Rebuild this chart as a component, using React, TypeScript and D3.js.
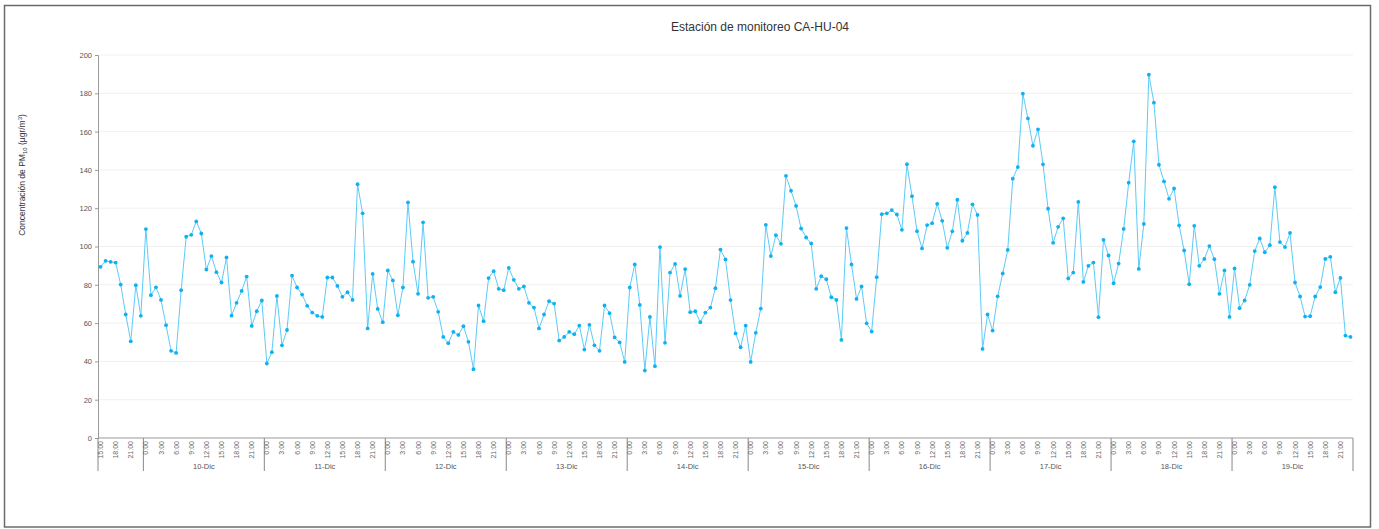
import { useEffect, useRef } from 'react';
import * as d3 from 'd3';

// hourly PM10 readings, one array per day (9-Dic starts at 15:00)
const dic09 = [89.4, 92.5, 92.0, 91.6, 80.1, 64.5, 50.5, 79.8, 63.8];
const dic10 = [109.1, 74.6, 78.7, 72.1, 58.9, 45.5, 44.4, 77.2, 105.1, 106.1, 113.1, 106.8, 88.0, 95.0, 86.6, 81.2, 94.3, 63.9, 70.6, 76.8, 84.3, 58.5, 66.2, 71.8];
const dic11 = [38.9, 44.8, 74.2, 48.4, 56.4, 84.8, 78.6, 74.9, 69.0, 65.5, 63.8, 63.2, 83.8, 83.8, 79.4, 73.7, 76.1, 72.1, 132.5, 117.3, 57.2, 85.7, 67.4, 60.5];
const dic12 = [87.5, 82.3, 64.1, 78.6, 123.0, 92.1, 75.3, 112.6, 73.2, 73.7, 65.9, 52.8, 49.5, 55.4, 53.8, 58.4, 50.2, 35.9, 69.2, 61.0, 83.5, 87.1, 77.9, 77.2];
const dic13 = [88.8, 82.6, 77.9, 79.1, 70.6, 68.1, 57.2, 64.5, 71.4, 70.2, 50.9, 52.8, 55.4, 54.2, 58.7, 46.2, 59.1, 48.4, 45.5, 69.2, 65.2, 52.5, 49.9, 39.7];
const dic14 = [78.6, 90.6, 69.5, 35.2, 63.2, 37.5, 99.7, 49.7, 86.4, 90.9, 74.2, 88.2, 65.7, 66.2, 60.5, 65.5, 68.1, 78.2, 98.4, 93.2, 72.0, 54.6, 47.4, 58.7];
const dic15 = [39.7, 54.9, 67.6, 111.3, 95.0, 105.9, 101.4, 136.9, 129.1, 121.2, 109.4, 104.7, 101.6, 77.9, 84.5, 82.9, 73.5, 72.1, 51.2, 109.6, 90.6, 72.6, 79.1, 59.9];
const dic16 = [55.6, 84.0, 116.9, 117.3, 119.0, 116.7, 108.7, 143.0, 126.3, 108.0, 99.0, 111.2, 112.2, 122.3, 113.4, 99.3, 107.9, 124.4, 103.0, 107.1, 122.0, 116.5, 46.5, 64.5];
const dic17 = [56.1, 74.0, 85.9, 98.2, 135.4, 141.5, 179.8, 166.9, 152.6, 161.2, 142.9, 119.7, 101.9, 110.3, 114.7, 83.3, 86.4, 123.3, 81.5, 89.9, 91.6, 63.1, 103.5, 95.3];
const dic18 = [80.8, 91.1, 109.2, 133.3, 154.9, 88.3, 111.8, 189.7, 175.1, 142.7, 134.0, 124.9, 130.3, 111.0, 97.9, 80.3, 110.8, 89.9, 93.5, 100.2, 93.4, 75.3, 87.5, 63.2];
const dic19 = [88.5, 67.8, 71.8, 80.0, 97.6, 104.2, 97.0, 100.7, 131.0, 102.3, 99.7, 107.1, 81.2, 73.9, 63.4, 63.6, 73.9, 78.8, 93.5, 94.6, 76.1, 83.6, 53.5, 52.8];

const days = ['9-Dic', '10-Dic', '11-Dic', '12-Dic', '13-Dic', '14-Dic', '15-Dic', '16-Dic', '17-Dic', '18-Dic', '19-Dic'];
const dayValues = [dic09, dic10, dic11, dic12, dic13, dic14, dic15, dic16, dic17, dic18, dic19];
const hourTicks = ['0:00', '3:00', '6:00', '9:00', '12:00', '15:00', '18:00', '21:00'];
const yTicks = [0, 20, 40, 60, 80, 100, 120, 140, 160, 180, 200];

const title = 'Estación de monitoreo CA-HU-04';
const font = '"Liberation Sans", Arial, sans-serif';

const App = () => {
  const svgRef = useRef<SVGSVGElement>(null);
  const width = 1379;
  const height = 529;

  useEffect(() => {
    if (!svgRef.current) return;
    const svg = d3.select(svgRef.current);
    svg.selectAll('*').remove();

    // flatten into hourly points
    const points: { day: number; hour: number; value: number }[] = [];
    dayValues.forEach((vals, d) => {
      const start = 24 - vals.length;
      vals.forEach((v, k) => points.push({ day: d, hour: start + k, value: v }));
    });

    const plot = { left: 98, right: 1353, top: 55, bottom: 438 };

    const x = d3.scaleBand<number>()
      .domain(points.map((_, i) => i))
      .range([plot.left, plot.right])
      .padding(0);
    const bw = x.bandwidth();
    const cx = (i: number) => (x(i) || 0) + bw / 2;

    const y = d3.scaleLinear().domain([0, 200]).range([plot.bottom, plot.top]);

    // outer frame
    svg.append('rect')
      .attr('x', 4.5).attr('y', 5.5)
      .attr('width', 1366).attr('height', 521.5)
      .attr('fill', '#fff')
      .attr('stroke', '#6b6b6b')
      .attr('stroke-width', 1.5);

    svg.append('text')
      .attr('x', 760).attr('y', 31)
      .attr('text-anchor', 'middle')
      .attr('font-family', font)
      .attr('font-size', 12)
      .attr('fill', '#333')
      .text(title);

    // grid
    svg.append('g')
      .selectAll('line')
      .data(yTicks.filter(t => t > 0))
      .enter().append('line')
      .attr('x1', plot.left).attr('x2', plot.right)
      .attr('y1', d => y(d)).attr('y2', d => y(d))
      .attr('stroke', '#f0f0f0')
      .attr('stroke-width', 1);

    // y axis
    const yAxis = svg.append('g')
      .attr('transform', `translate(${plot.left},0)`)
      .call(d3.axisLeft(y).tickValues(yTicks).tickSize(3).tickPadding(3));
    yAxis.select('.domain').attr('stroke', '#999');
    yAxis.selectAll('.tick line').attr('stroke', '#999');
    yAxis.selectAll('text')
      .attr('font-family', font)
      .attr('font-size', 7.5)
      .attr('fill', '#555');

    const yLabel = svg.append('text')
      .attr('transform', 'translate(25,175) rotate(-90)')
      .attr('text-anchor', 'middle')
      .attr('font-family', font)
      .attr('font-size', 8.5)
      .attr('fill', '#333');
    yLabel.append('tspan').text('Concentración de PM');
    yLabel.append('tspan').attr('font-size', 6).attr('dy', 2).text('10');
    yLabel.append('tspan').attr('dy', -2).text(' (µgr/m');
    yLabel.append('tspan').attr('font-size', 6).attr('dy', -3).text('3');
    yLabel.append('tspan').attr('dy', 3).text(')');

    // x axis line
    svg.append('line')
      .attr('x1', plot.left).attr('x2', plot.right)
      .attr('y1', plot.bottom).attr('y2', plot.bottom)
      .attr('stroke', '#999');

    // day separators
    const boundaries: number[] = [plot.left];
    points.forEach((p, i) => { if (p.hour === 0) boundaries.push(x(i) || 0); });
    boundaries.push(plot.right);
    svg.append('g')
      .selectAll('line')
      .data(boundaries)
      .enter().append('line')
      .attr('x1', d => d).attr('x2', d => d)
      .attr('y1', plot.bottom).attr('y2', 471)
      .attr('stroke', '#888');

    // hour labels
    const tickPts = points
      .map((p, i) => ({ ...p, i }))
      .filter(p => p.hour % 3 === 0);
    svg.append('g')
      .selectAll('text')
      .data(tickPts)
      .enter().append('text')
      .attr('transform', d => `translate(${cx(d.i) + 2.5},${plot.bottom + 3}) rotate(-90)`)
      .attr('text-anchor', 'end')
      .attr('font-family', font)
      .attr('font-size', 7)
      .attr('fill', '#666')
      .text(d => hourTicks[d.hour / 3]);

    // day labels (first partial day has none)
    const dayCenters = days.map((d, k) => {
      const idx = points.map((p, i) => ({ p, i })).filter(o => o.p.day === k).map(o => o.i);
      return { label: d, k, mid: ((x(idx[0]) || 0) + (x(idx[idx.length - 1]) || 0) + bw) / 2 };
    }).filter(d => d.k > 0);
    svg.append('g')
      .selectAll('text')
      .data(dayCenters)
      .enter().append('text')
      .attr('x', d => d.mid)
      .attr('y', 469)
      .attr('text-anchor', 'middle')
      .attr('font-family', font)
      .attr('font-size', 7.5)
      .attr('fill', '#555')
      .text(d => d.label);

    // series
    const line = d3.line<{ value: number }>()
      .x((_, i) => cx(i))
      .y(d => y(d.value));
    svg.append('path')
      .datum(points)
      .attr('d', line)
      .attr('fill', 'none')
      .attr('stroke', '#5ccbf7')
      .attr('stroke-width', 1);

    svg.append('g')
      .selectAll('circle')
      .data(points)
      .enter().append('circle')
      .attr('cx', (_, i) => cx(i))
      .attr('cy', d => y(d.value))
      .attr('r', 1.9)
      .attr('fill', '#0fb2f0');
  }, []);

  return (
    <svg
      ref={svgRef}
      width={width}
      height={height}
      style={{ position: 'absolute', left: 0, top: 0, background: '#fff' }}
    />
  );
};

export default App;
